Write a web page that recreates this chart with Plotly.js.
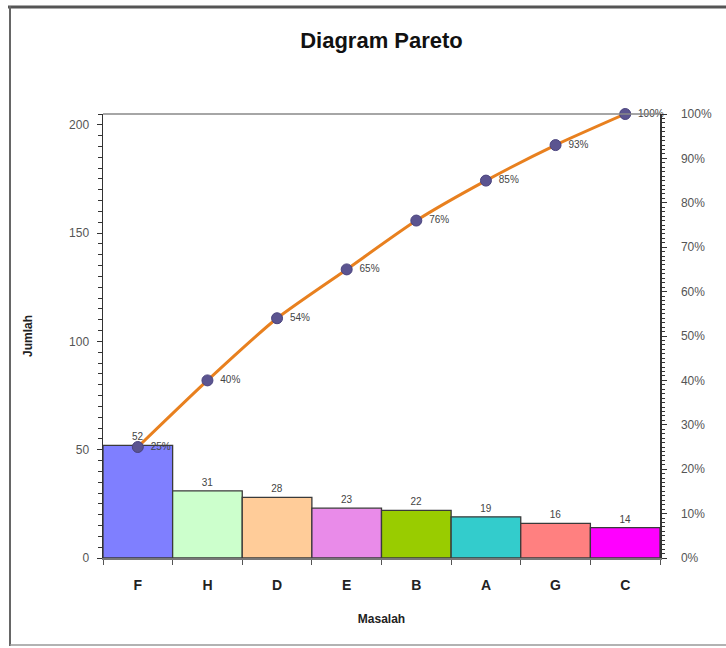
<!DOCTYPE html>
<html>
<head>
<meta charset="utf-8">
<script src="https://cdn.plot.ly/plotly-3.0.1.min.js"></script>
<style>html,body{margin:0;padding:0;background:#fff;}#chart{width:726px;height:648px;}</style>
</head>
<body>
<div id="chart"></div>
<script>
const categories = ["F", "H", "D", "E", "B", "A", "G", "C"];
const counts = [52, 31, 28, 23, 22, 19, 16, 14];
const cumulativePct = [25, 40, 54, 65, 76, 85, 93, 100];
const pctLabels = ["25%", "40%", "54%", "65%", "76%", "85%", "93%", "100%"];
const barColors = ["#7f7fff", "#ccffcc", "#ffcc99", "#e98be9", "#99cc00", "#33cccc", "#ff8080", "#ff00ff"];
const leftTicks = [0, 50, 100, 150, 200];
const rightTicks = [0, 10, 20, 30, 40, 50, 60, 70, 80, 90, 100];
const rightTickLabels = rightTicks.map(v => v + "%");

const W = 726, H = 648;
const m = {l: 103, r: 66, t: 114, b: 90};
const pw = W - m.l - m.r, ph = H - m.t - m.b;
function px(x) { return (x - m.l) / pw; }
function py(y) { return 1 - (y - m.t) / ph; }

const bars = {
  type: "bar", x: categories, y: counts, yaxis: "y",
  marker: {color: barColors, line: {color: "#3a3a3a", width: 1.3}},
  text: counts.map(String), textposition: "outside", cliponaxis: false,
  textfont: {family: "Liberation Sans, Arial, sans-serif", size: 10, color: "#444"},
  hoverinfo: "x+y", showlegend: false
};
const line = {
  type: "scatter", mode: "lines+markers+text", x: categories, y: cumulativePct, yaxis: "y2",
  line: {color: "#e8801f", width: 3, shape: "spline", smoothing: 0.6},
  marker: {color: "#5b5490", size: 11, line: {color: "#4a437e", width: 1}},
  text: pctLabels.map(s => "\u2002" + s), textposition: "middle right", cliponaxis: false,
  textfont: {family: "Liberation Sans, Arial, sans-serif", size: 10, color: "#444"},
  showlegend: false
};

const layout = {
  width: W, height: H,
  margin: m,
  paper_bgcolor: "#ffffff", plot_bgcolor: "#ffffff",
  bargap: 0,
  title: {text: "<b>Diagram Pareto</b>", x: 0.5, xref: "paper", y: 1 - 40 / H, yanchor: "middle",
          font: {family: "Liberation Sans, Arial, sans-serif", size: 22, color: "#111"}},
  xaxis: {
    type: "category", showgrid: false, zeroline: false,
    showline: true, linecolor: "#777", linewidth: 1.5,
    ticks: "outside", tickson: "boundaries", ticklen: 5, tickcolor: "#555",
    ticklabelstandoff: 14,
    tickfont: {family: "Liberation Sans Narrow, Arial Narrow, sans-serif", size: 14, color: "#222", weight: "bold"},
    title: {text: "<b>Masalah</b>", standoff: 22,
            font: {family: "Liberation Sans Narrow, Arial Narrow, sans-serif", size: 12, color: "#222"}}
  },
  yaxis: {
    range: [0, 205], tickvals: leftTicks, showgrid: false, zeroline: false,
    showline: true, linecolor: "#333", linewidth: 1.5,
    ticks: "outside", ticklen: 5, tickcolor: "#333",
    ticklabelstandoff: 5,
    minor: {dtick: 5, ticks: "outside", ticklen: 4, tickcolor: "#333"},
    tickfont: {family: "Liberation Sans, Arial, sans-serif", size: 12, color: "#555"},
    title: {text: "<b>Jumlah</b>", standoff: 34,
            font: {family: "Liberation Sans Narrow, Arial Narrow, sans-serif", size: 12, color: "#222"}}
  },
  yaxis2: {
    overlaying: "y", side: "right", range: [0, 100],
    tickvals: rightTicks, ticktext: rightTickLabels,
    showgrid: false, zeroline: false,
    showline: true, linecolor: "#333", linewidth: 1.5,
    ticks: "outside", ticklen: 5, tickcolor: "#333",
    ticklabelstandoff: 12,
    minor: {dtick: 1, ticks: "outside", ticklen: 3, tickcolor: "#333"},
    tickfont: {family: "Liberation Sans, Arial, sans-serif", size: 12, color: "#555"}
  },
  shapes: [
    {type: "line", xref: "paper", yref: "paper", x0: 0, x1: 1, y0: 1, y1: 1, line: {color: "#888", width: 1.5}},
    {type: "line", xref: "paper", yref: "paper", x0: px(8), x1: px(726), y0: py(7), y1: py(7), line: {color: "#555", width: 3}},
    {type: "line", xref: "paper", yref: "paper", x0: px(10), x1: px(10), y0: py(6), y1: py(646), line: {color: "#666", width: 2}},
    {type: "line", xref: "paper", yref: "paper", x0: px(10), x1: px(726), y0: py(645), y1: py(645), line: {color: "#999", width: 1.5}}
  ]
};

Plotly.newPlot("chart", [bars, line], layout, {displayModeBar: false, staticPlot: true});
</script>
</body>
</html>
